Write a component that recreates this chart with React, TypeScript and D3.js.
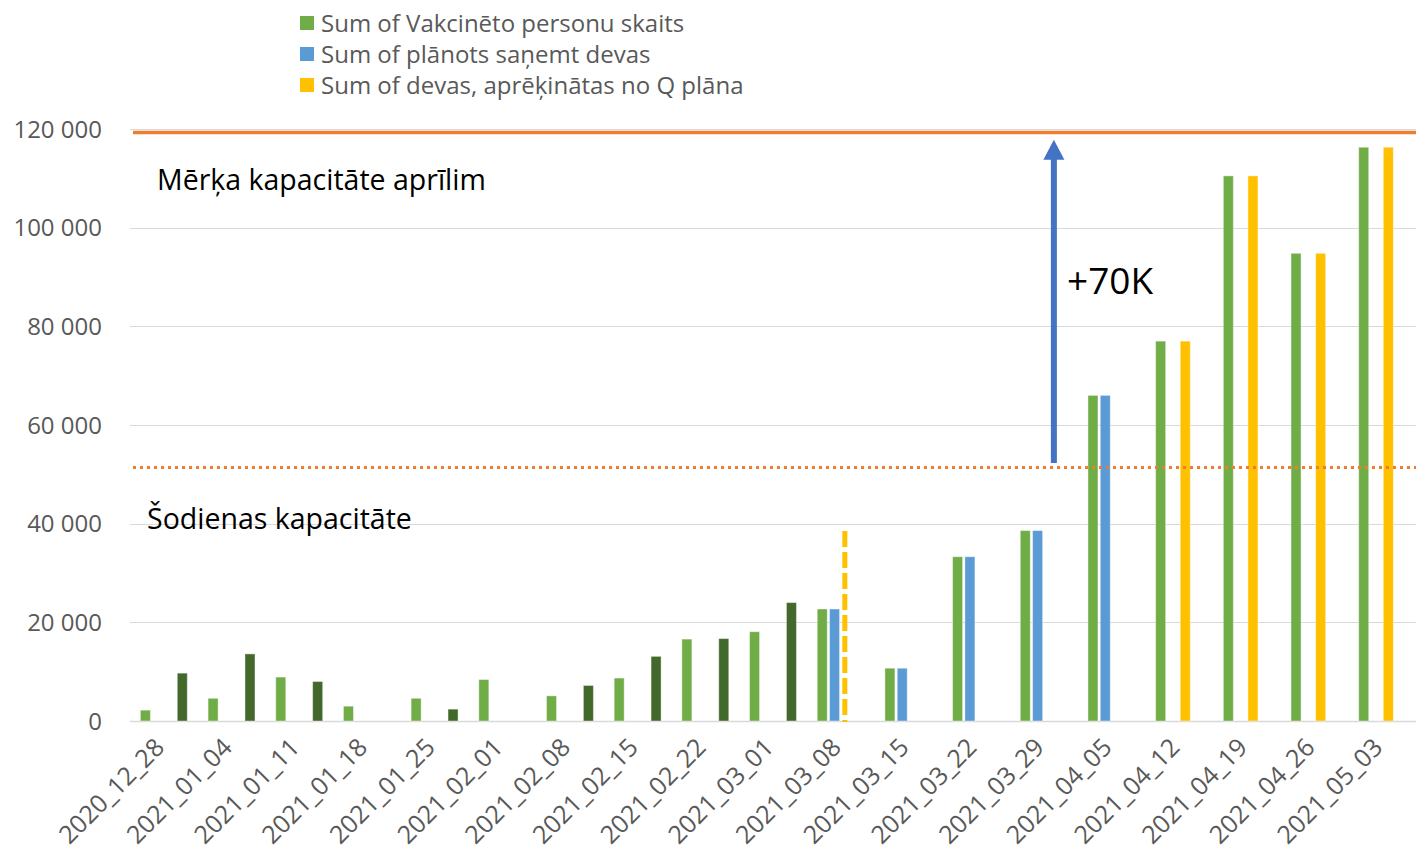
import React, { useEffect, useRef } from "react";
import * as d3 from "d3";

// weeks on the x axis
const weeks = [
  "2020_12_28", "2021_01_04", "2021_01_11", "2021_01_18", "2021_01_25",
  "2021_02_01", "2021_02_08", "2021_02_15", "2021_02_22", "2021_03_01",
  "2021_03_08", "2021_03_15", "2021_03_22", "2021_03_29", "2021_04_05",
  "2021_04_12", "2021_04_19", "2021_04_26", "2021_05_03",
];

// series values (null = no bar)
const vaccinated = [
  2200, 4600, 8900, 3000, 4600, 8400, 5100, 8700, 16600, 18100,
  22700, 10700, 33300, 38600, 66000, 77000, 110500, 94800, 116300,
];
const planned = [
  null, null, null, null, null, null, null, null, null, null,
  22700, 10700, 33300, 38600, 66000, null, null, null, null,
];
const qPlan = [
  null, null, null, null, null, null, null, null, null, null,
  null, null, null, null, null, 77000, 110500, 94800, 116300,
];
const vaccinatedSecond = [
  9700, 13600, 8000, null, 2400, null, 7200, 13100, 16700, 24000,
  null, null, null, null, null, null, null, null, null,
];

const seriesKeys = ["vaccinated", "planned", "qPlan", "vaccinatedSecond"];
const seriesColors = {
  vaccinated: "#70ad47",
  planned: "#5b9bd5",
  qPlan: "#ffc000",
  vaccinatedSecond: "#43682b",
};
const legendItems = [
  { key: "vaccinated", label: "Sum of Vakcinēto personu skaits" },
  { key: "planned", label: "Sum of plānots saņemt devas" },
  { key: "qPlan", label: "Sum of devas, aprēķinātas no Q plāna" },
];

const yTicks = [0, 20000, 40000, 60000, 80000, 100000, 120000];

// reference lines / annotations
const targetCapacity = 119300;
const currentCapacity = 51400;
const arrowFrom = 52300;
const arrowTo = 117800;
const cutoffTop = 38500;

const FONT = "'Open Sans', sans-serif";

export default function App() {
  const ref = useRef(null);

  useEffect(() => {
    const width = 1416;
    const height = 857;
    const margin = { left: 130, right: 0, top: 129, bottom: 136 };

    d3.select(ref.current).selectAll("*").remove();

    const svg = d3
      .select(ref.current)
      .append("svg")
      .attr("width", width)
      .attr("height", height)
      .style("position", "absolute")
      .style("left", 0)
      .style("top", 0)
      .style("font-family", FONT);

    const x0 = d3
      .scaleBand()
      .domain(weeks)
      .range([margin.left, width - margin.right])
      .paddingInner(0.307)
      .paddingOuter(0.1535);

    const x1 = d3
      .scaleBand()
      .domain(seriesKeys)
      .range([0, x0.bandwidth()])
      .paddingInner(0.187)
      .paddingOuter(0);

    const y = d3
      .scaleLinear()
      .domain([0, 120000])
      .range([height - margin.bottom, margin.top]);

    const fmt = d3.formatLocale({
      decimal: ",",
      thousands: " ",
      grouping: [3],
      currency: ["", ""],
    }).format(",d");

    // gridlines
    svg
      .append("g")
      .selectAll("line")
      .data(yTicks)
      .enter()
      .append("line")
      .attr("x1", margin.left)
      .attr("x2", width)
      .attr("y1", (d) => Math.round(y(d)) + 0.5)
      .attr("y2", (d) => Math.round(y(d)) + 0.5)
      .attr("stroke", "#d9d9d9")
      .attr("stroke-width", (d) => (d === 0 ? 1.5 : 1));

    // y labels
    svg
      .append("g")
      .selectAll("text")
      .data(yTicks)
      .enter()
      .append("text")
      .attr("x", 102)
      .attr("y", (d) => y(d))
      .attr("dy", "0.36em")
      .attr("text-anchor", "end")
      .attr("font-size", 24)
      .attr("fill", "#595959")
      .text((d) => fmt(d));

    // x labels
    svg
      .append("g")
      .selectAll("text")
      .data(weeks)
      .enter()
      .append("text")
      .attr(
        "transform",
        (d) =>
          "translate(" + (x0(d) + x0.bandwidth() / 2 + 2) + "," + 749 + ") rotate(-45)"
      )
      .attr("text-anchor", "end")
      .attr("font-size", 25)
      .attr("fill", "#595959")
      .text((d) => d);

    // bars
    const table = { vaccinated, planned, qPlan, vaccinatedSecond };
    const rows = [];
    weeks.forEach((w, i) => {
      seriesKeys.forEach((k) => {
        const v = table[k][i];
        if (v != null) rows.push({ week: w, key: k, value: v });
      });
    });

    svg
      .append("g")
      .selectAll("rect")
      .data(rows)
      .enter()
      .append("rect")
      .attr("x", (d) => x0(d.week) + x1(d.key))
      .attr("y", (d) => y(d.value))
      .attr("width", x1.bandwidth())
      .attr("height", (d) => y(0) - y(d.value))
      .attr("fill", (d) => seriesColors[d.key])
      .attr("stroke", "#ffffff")
      .attr("stroke-opacity", 0.4)
      .attr("stroke-width", 1);

    // target capacity line
    svg
      .append("line")
      .attr("x1", margin.left + 3)
      .attr("x2", width)
      .attr("y1", y(targetCapacity))
      .attr("y2", y(targetCapacity))
      .attr("stroke", "#ed7d31")
      .attr("stroke-width", 3.5);

    // current capacity dotted line
    svg
      .append("line")
      .attr("x1", margin.left + 3)
      .attr("x2", width)
      .attr("y1", y(currentCapacity))
      .attr("y2", y(currentCapacity))
      .attr("stroke", "#ed7d31")
      .attr("stroke-width", 3)
      .attr("stroke-dasharray", "3 4");

    // yellow dashed cutoff
    const cutX = x0("2021_03_08") + x1("qPlan") + 3;
    svg
      .append("line")
      .attr("x1", cutX)
      .attr("x2", cutX)
      .attr("y1", y(cutoffTop))
      .attr("y2", y(0) + 1)
      .attr("stroke", "#ffc000")
      .attr("stroke-width", 5)
      .attr("stroke-dasharray", "16 5");

    // arrow
    const ax = x0("2021_03_29") + x1("qPlan") + x1.bandwidth() / 2 + 4;
    const tipY = y(arrowTo);
    svg
      .append("line")
      .attr("x1", ax)
      .attr("x2", ax)
      .attr("y1", y(arrowFrom))
      .attr("y2", tipY + 18)
      .attr("stroke", "#4472c4")
      .attr("stroke-width", 6);
    svg
      .append("path")
      .attr(
        "d",
        d3.line()([
          [ax, tipY],
          [ax + 10.5, tipY + 20],
          [ax - 10.5, tipY + 20],
        ]) + "Z"
      )
      .attr("fill", "#4472c4");

    // annotation texts
    svg
      .append("text")
      .attr("x", 157)
      .attr("y", 190)
      .attr("font-size", 28.5)
      .attr("fill", "#000")
      .text("Mērķa kapacitāte aprīlim");
    svg
      .append("text")
      .attr("x", 147)
      .attr("y", 529)
      .attr("font-size", 28.5)
      .attr("fill", "#000")
      .text("Šodienas kapacitāte");
    svg
      .append("text")
      .attr("x", 1067)
      .attr("y", 294)
      .attr("font-size", 37)
      .attr("fill", "#000")
      .text("+70K");

    // legend
    const lg = svg
      .append("g")
      .selectAll("g")
      .data(legendItems)
      .enter()
      .append("g")
      .attr("transform", (d, i) => "translate(300," + (23 + i * 31) + ")");
    lg.append("rect")
      .attr("x", 0)
      .attr("y", -7)
      .attr("width", 14)
      .attr("height", 14)
      .attr("fill", (d) => seriesColors[d.key]);
    lg.append("text")
      .attr("x", 21)
      .attr("dy", "0.36em")
      .attr("font-size", 24)
      .attr("fill", "#595959")
      .text((d) => d.label);
  }, []);

  return <div ref={ref}></div>;
}
